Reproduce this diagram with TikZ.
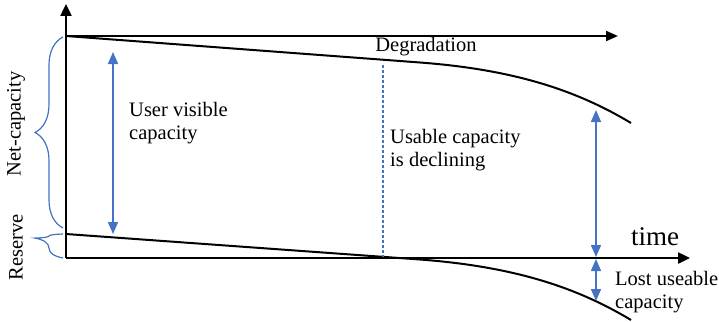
\documentclass[tikz,border=0pt]{standalone}
\usepackage{fontspec}
\setmainfont{Liberation Serif}
\usetikzlibrary{arrows.meta,decorations.pathreplacing}
\definecolor{obl}{RGB}{68,114,196}
\begin{document}
\begin{tikzpicture}[x=1pt,y=-1pt,
  axis/.style={line width=2.4pt,-{Triangle[width=11pt,length=12pt]}},
  curve/.style={line width=2pt},
  dbl/.style={obl,line width=1.6pt,{Triangle[width=10pt,length=12pt]}-{Triangle[width=10pt,length=12pt]}},
  brc/.style={obl,line width=1.2pt,decorate,decoration={brace,amplitude=28pt}},
  lbl/.style={font=\fontsize{20.5}{23}\selectfont,inner sep=0pt,align=left}]
\useasboundingbox (0,0) rectangle (719,321);
% coordinates
\coordinate (O) at (66,258);
\coordinate (Ytop) at (66,4);
\coordinate (Xend) at (690,258);
\coordinate (D0) at (66,36);
\coordinate (D1) at (618,36);
\coordinate (Ua) at (113,52);
\coordinate (Ub) at (113,234);
\coordinate (Ra) at (596,110);
\coordinate (Rb) at (596,257);
\coordinate (La) at (596,259);
\coordinate (Lb) at (596,301);
\coordinate (Va) at (383,65);
\coordinate (Vb) at (383,257);
% axes
\draw[axis] (O) -- (Ytop);
\draw[axis] (O) -- (Xend);
\draw[line width=2pt,-{Triangle[width=10pt,length=12pt]}] (D0) -- (D1);
% curves
\draw[curve] (66,36) -- (420,62.5) .. controls (520,70) and (581,93) .. (631,123);
\draw[curve] (66,234) -- (420,259.5) .. controls (520,267) and (581,290) .. (631,320);
% dashed
\draw[obl,line width=1.4pt,dash pattern=on 3pt off 2pt] (Va) -- (Vb);
% double arrows
\draw[dbl] (Ua) -- (Ub);
\draw[dbl] (Ra) -- (Rb);
\draw[dbl] (La) -- (Lb);
% braces
\draw[brc,decoration={aspect=0.5}] (63,228) -- (63,37);
\draw[brc,decoration={aspect=0.83,amplitude=28pt}] (63,258) -- (63,234);
% labels
\node[lbl,rotate=90] (net) at (16,124) {Net-capacity};
\node[lbl,rotate=90] (res) at (16,247) {Reserve};
\node[lbl] (deg) at (426,47) {Degradation};
\node[lbl,anchor=west] (uvc) at (129,123) {User visible\\capacity};
\node[lbl,anchor=west] (ucd) at (390,150) {Usable capacity\\is declining};
\node[lbl,anchor=west] (lost) at (615,292) {Lost useable\\capacity};
\node[font=\fontsize{27}{30}\selectfont,inner sep=0pt] (time) at (655,237) {time};
\end{tikzpicture}
\end{document}
